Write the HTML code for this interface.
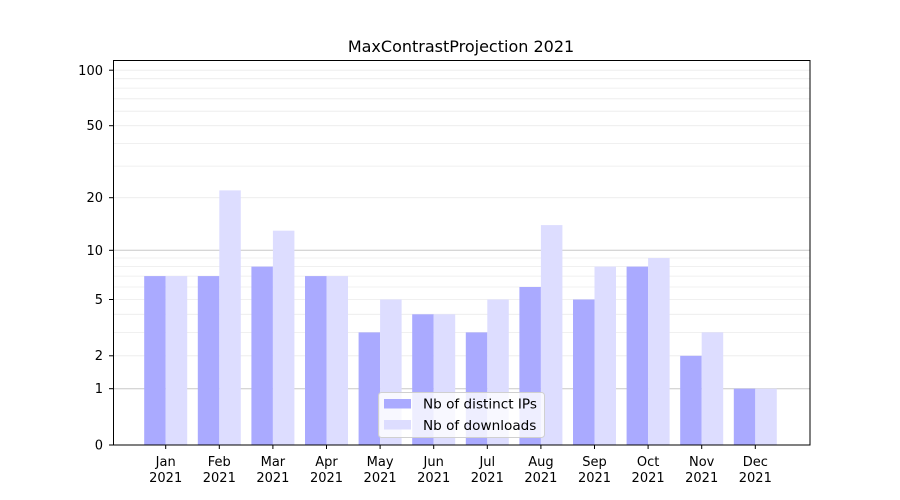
<!DOCTYPE html><html><head><style>body{margin:0;background:#fff}svg{display:block;font-family:"DejaVu Sans","Liberation Sans",sans-serif}</style></head><body>
<svg width="900" height="500" viewBox="0 0 900 500">
<rect width="900" height="500" fill="#fff"/>
<g stroke="#ebebeb" stroke-width="0.8">
<line x1="113" x2="810" y1="355.8" y2="355.8"/><line x1="113" x2="810" y1="332.4" y2="332.4"/><line x1="113" x2="810" y1="314.3" y2="314.3"/><line x1="113" x2="810" y1="299.5" y2="299.5"/><line x1="113" x2="810" y1="287.0" y2="287.0"/><line x1="113" x2="810" y1="276.1" y2="276.1"/><line x1="113" x2="810" y1="266.6" y2="266.6"/><line x1="113" x2="810" y1="258.0" y2="258.0"/>
<line x1="113" x2="810" y1="197.7" y2="197.7"/><line x1="113" x2="810" y1="166.1" y2="166.1"/><line x1="113" x2="810" y1="143.4" y2="143.4"/><line x1="113" x2="810" y1="125.7" y2="125.7"/><line x1="113" x2="810" y1="111.2" y2="111.2"/><line x1="113" x2="810" y1="98.8" y2="98.8"/><line x1="113" x2="810" y1="88.1" y2="88.1"/><line x1="113" x2="810" y1="78.7" y2="78.7"/><line x1="113" x2="810" y1="70.2" y2="70.2"/>
</g>
<g stroke="#c8c8c8" stroke-width="1"><line x1="113" x2="810" y1="388.7" y2="388.7"/><line x1="113" x2="810" y1="250.3" y2="250.3"/></g>
<g fill="#aaaaff">
<rect x="144.2" y="276.1" width="21.5" height="168.9"/>
<rect x="197.8" y="276.1" width="21.5" height="168.9"/>
<rect x="251.4" y="266.6" width="21.5" height="178.4"/>
<rect x="305" y="276.1" width="21.5" height="168.9"/>
<rect x="358.6" y="332.4" width="21.5" height="112.6"/>
<rect x="412.2" y="314.3" width="21.5" height="130.7"/>
<rect x="465.8" y="332.4" width="21.5" height="112.6"/>
<rect x="519.4" y="287.0" width="21.5" height="158"/>
<rect x="573" y="299.5" width="21.5" height="145.5"/>
<rect x="626.6" y="266.6" width="21.5" height="178.4"/>
<rect x="680.2" y="355.8" width="21.5" height="89.2"/>
<rect x="733.8" y="388.7" width="21.5" height="56.3"/>
</g>
<g fill="#ddddff">
<rect x="165.7" y="276.1" width="21.5" height="168.9"/>
<rect x="219.3" y="190.4" width="21.5" height="254.6"/>
<rect x="272.9" y="230.7" width="21.5" height="214.3"/>
<rect x="326.5" y="276.1" width="21.5" height="168.9"/>
<rect x="380.1" y="299.5" width="21.5" height="145.5"/>
<rect x="433.7" y="314.3" width="21.5" height="130.7"/>
<rect x="487.3" y="299.5" width="21.5" height="145.5"/>
<rect x="540.9" y="225.1" width="21.5" height="219.9"/>
<rect x="594.5" y="266.6" width="21.5" height="178.4"/>
<rect x="648.1" y="258.0" width="21.5" height="187"/>
<rect x="701.7" y="332.4" width="21.5" height="112.6"/>
<rect x="755.3" y="388.7" width="21.5" height="56.3"/>
</g>
<rect x="113.5" y="60.5" width="696.5" height="384.5" fill="none" stroke="#000" stroke-width="1"/>
<g font-size="13" text-anchor="end" fill="#000">
<text x="103" y="449.5">0</text><text x="103" y="393">1</text><text x="103" y="360">2</text><text x="103" y="304">5</text><text x="103" y="255">10</text><text x="103" y="202">20</text><text x="103" y="130">50</text><text x="103" y="75">100</text>
</g>
<g stroke="#000"><line x1="109" x2="113" y1="445" y2="445"/><line x1="109" x2="113" y1="388.7" y2="388.7"/><line x1="109" x2="113" y1="355.8" y2="355.8"/><line x1="109" x2="113" y1="299.5" y2="299.5"/><line x1="109" x2="113" y1="250.3" y2="250.3"/><line x1="109" x2="113" y1="197.7" y2="197.7"/><line x1="109" x2="113" y1="125.7" y2="125.7"/><line x1="109" x2="113" y1="70.2" y2="70.2"/>
<line x1="165.7" x2="165.7" y1="445" y2="449"/><line x1="219.3" x2="219.3" y1="445" y2="449"/><line x1="272.9" x2="272.9" y1="445" y2="449"/><line x1="326.5" x2="326.5" y1="445" y2="449"/><line x1="380.1" x2="380.1" y1="445" y2="449"/><line x1="433.7" x2="433.7" y1="445" y2="449"/><line x1="487.3" x2="487.3" y1="445" y2="449"/><line x1="540.9" x2="540.9" y1="445" y2="449"/><line x1="594.5" x2="594.5" y1="445" y2="449"/><line x1="648.1" x2="648.1" y1="445" y2="449"/><line x1="701.7" x2="701.7" y1="445" y2="449"/><line x1="755.3" x2="755.3" y1="445" y2="449"/></g>
<g font-size="13" text-anchor="middle">
<text x="165.7" y="466">Jan</text><text x="165.7" y="482">2021</text>
<text x="219.3" y="466">Feb</text><text x="219.3" y="482">2021</text>
<text x="272.9" y="466">Mar</text><text x="272.9" y="482">2021</text>
<text x="326.5" y="466">Apr</text><text x="326.5" y="482">2021</text>
<text x="380.1" y="466">May</text><text x="380.1" y="482">2021</text>
<text x="433.7" y="466">Jun</text><text x="433.7" y="482">2021</text>
<text x="487.3" y="466">Jul</text><text x="487.3" y="482">2021</text>
<text x="540.9" y="466">Aug</text><text x="540.9" y="482">2021</text>
<text x="594.5" y="466">Sep</text><text x="594.5" y="482">2021</text>
<text x="648.1" y="466">Oct</text><text x="648.1" y="482">2021</text>
<text x="701.7" y="466">Nov</text><text x="701.7" y="482">2021</text>
<text x="755.3" y="466">Dec</text><text x="755.3" y="482">2021</text>
</g>
<text x="461" y="52" font-size="16" text-anchor="middle">MaxContrastProjection 2021</text>
<rect x="378.5" y="392.5" width="166" height="45" rx="3" fill="#fff" fill-opacity="0.8" stroke="#d0d0d0"/>
<rect x="384" y="399" width="27" height="9.5" fill="#aaaaff"/>
<rect x="384" y="420" width="27" height="9.5" fill="#ddddff"/>
<text x="423" y="408.5" font-size="13.6">Nb of distinct IPs</text>
<text x="423" y="430" font-size="13.6">Nb of downloads</text>
</svg></body></html>
